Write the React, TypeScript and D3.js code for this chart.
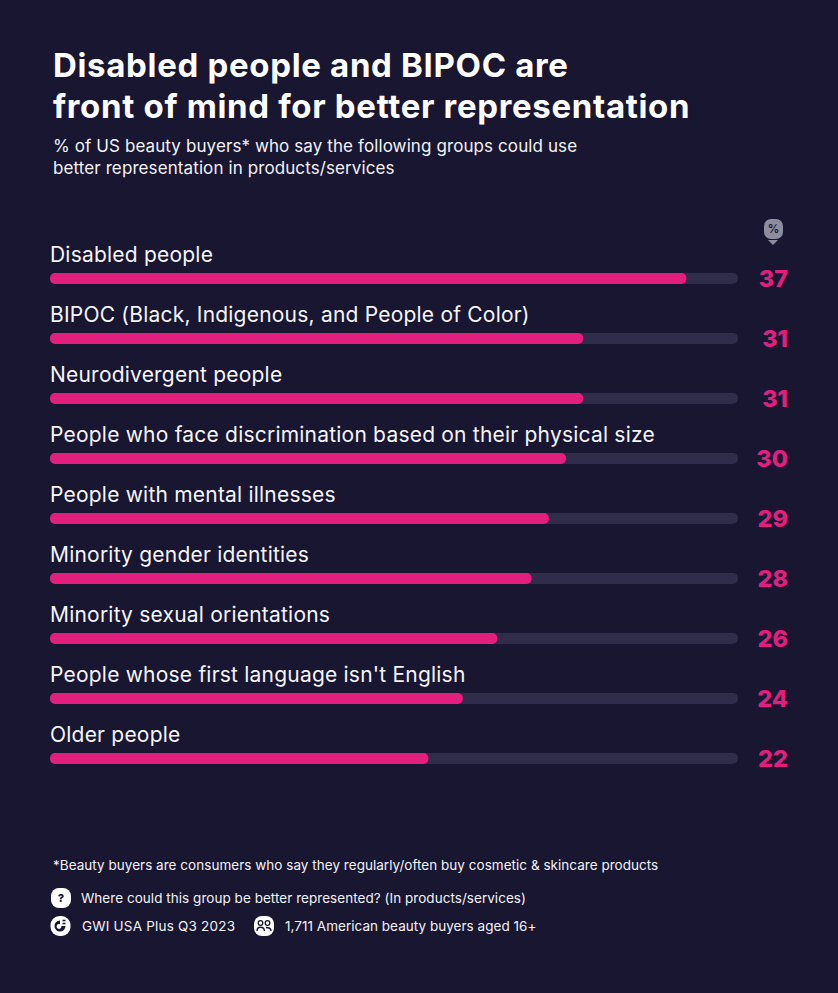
import React from "react";
import * as d3 from "d3";

const categories = [
  "Disabled people",
  "BIPOC (Black, Indigenous, and People of Color)",
  "Neurodivergent people",
  "People who face discrimination based on their physical size",
  "People with mental illnesses",
  "Minority gender identities",
  "Minority sexual orientations",
  "People whose first language isn't English",
  "Older people",
];
const values = [37, 31, 31, 30, 29, 28, 26, 24, 22];
const titleLines = ["Disabled people and BIPOC are", "front of mind for better representation"];
const subtitleLines = [
  "% of US beauty buyers* who say the following groups could use",
  "better representation in products/services",
];
const footnote = "*Beauty buyers are consumers who say they regularly/often buy cosmetic & skincare products";
const question = "Where could this group be better represented? (In products/services)";
const source = "GWI USA Plus Q3 2023";
const sample = "1,711 American beauty buyers aged 16+";

const FONT = "Inter, 'Noto Sans', sans-serif";
const BG = "#191632";
const PINK = "#e21f7d";
const TRACK = "#2f2d4a";

export default function App() {
  const x = d3.scaleLinear().domain([0, 40]).range([50, 738]);
  const y = d3.scaleBand<string>().domain(categories).range([249, 789]);
  return (
    <svg width={838} height={993} viewBox="0 0 838 993"
      style={{ position: "absolute", left: 0, top: 0, background: BG, fontFamily: FONT }}>
      <rect width={838} height={993} fill={BG} />
      {titleLines.map((t, i) => (
        <text key={t} x={53} y={77 + i * 41} fontSize={33} fontWeight={700} fill="#fff" letterSpacing={0.67}>{t}</text>
      ))}
      {subtitleLines.map((t, i) => (
        <text key={t} x={53} y={152 + i * 22} fontSize={17} fill="#f2f2f5" letterSpacing={0.1}>{t}</text>
      ))}
      <g>
        <rect x={764} y={219} width={19} height={20} rx={7} fill="#8e8d9f" />
        <text x={773.5} y={233} textAnchor="middle" fontSize={11.5} fontWeight={600} fill={BG}>%</text>
        <path d={d3.line()([[768, 240], [778, 240], [773, 245]]) + "Z"} fill="#8e8d9f" />
      </g>
      {categories.map((c, i) => {
        const top = y(c)!;
        return (
          <g key={c}>
            <text x={50} y={top + 13} fontSize={21} fill="#f5f5f7" letterSpacing={0.21}>{c}</text>
            <rect x={50} y={top + 24} width={x(40) - x(0)} height={11} rx={5} fill={TRACK} />
            <rect x={50} y={top + 24} width={x(values[i]) - x(0)} height={11} rx={5} fill={PINK} />
            <text x={788} y={top + 38} textAnchor="end" fontSize={23.5} fontWeight={800} fill={PINK}>{values[i]}</text>
          </g>
        );
      })}
      <text x={53} y={870} fontSize={13.5} fill="#f2f2f5" letterSpacing={0.03}>{footnote}</text>
      <rect x={51} y={888} width={20} height={20} rx={8} fill="#fff" />
      <text x={61} y={902} textAnchor="middle" fontSize={11} fontWeight={800} fill={BG}>?</text>
      <text x={81} y={903} fontSize={13.5} fill="#f2f2f5" letterSpacing={0.04}>{question}</text>
      <rect x={50.5} y={916} width={20} height={20} rx={9} fill="#fff" />
      <path d="M60 920.5a5.5 5.5 0 1 0 5.5 5.5h-5.5z" fill={BG} />
      <circle cx={59} cy={926.5} r={2.4} fill="#fff" />
      <path d="M62.5 920.5h3M62.5 923.5h3" stroke={BG} strokeWidth={1.5} />
      <text x={82} y={931} fontSize={13.5} fill="#f2f2f5" letterSpacing={0.2}>{source}</text>
      <rect x={254} y={916} width={20} height={20} rx={8} fill="#fff" />
      <circle cx={260.5} cy={923} r={2.3} fill="none" stroke={BG} strokeWidth={1.3} />
      <circle cx={267.5} cy={923} r={2.3} fill="none" stroke={BG} strokeWidth={1.3} />
      <path d="M257 931c0-5 7-5 7.5 0M266 927.5c3 0 5 1 5 3.5" fill="none" stroke={BG} strokeWidth={1.4} />
      <text x={285} y={931} fontSize={13.5} fill="#f2f2f5" letterSpacing={0.03}>{sample}</text>
    </svg>
  );
}
